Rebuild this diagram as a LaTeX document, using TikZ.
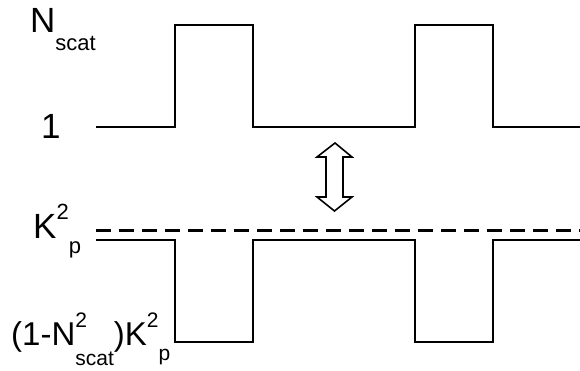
\documentclass[tikz,border=0pt]{standalone}
\usepackage{fontspec}
\setmainfont{Liberation Sans}
\newcommand{\hi}[2][19pt]{\raisebox{#1}{\fontsize{22}{26}\selectfont #2}}
\newcommand{\lo}[2][18pt]{\raisebox{-#1}{\fontsize{22}{26}\selectfont #2}}
\newcommand{\hs}[2][18pt]{\raisebox{#1}{\fontsize{21}{25}\selectfont #2}}
\newcommand{\ls}[2][18pt]{\raisebox{-#1}{\fontsize{21}{25}\selectfont #2}}

\begin{document}
\begin{tikzpicture}[
		x=1pt, y=-1pt,
		trace/.style={line width=2pt},
		ref/.style={line width=3pt, dash pattern=on 15pt off 8pt},
		swap/.style={line width=1.6pt, line join=miter},
		lbl/.style={anchor=base west, inner sep=0pt, font=\fontsize{35}{41}\selectfont},
		lbls/.style={lbl, font=\fontsize{33}{39}\selectfont}]
		\useasboundingbox (0,0) rectangle (580,370);
		\node[lbl] (nscat) at (30,32) {N\lo[18pt]{scat}};
		\node[lbl] (one) at (41,138) {1};
		\node[lbl] (kp) at (33,238) {K\hi{2}\lo[15pt]{p}};
		\node[lbls] (kplow) at (11,345) {(1-N\rlap{\hs{2}}\ls[20pt]{scat})K\hs{2}\ls[15pt]{p}};
		
		% upper trace
		\draw[trace] (96,127) -| (175,25) -| (253,127) -| (415,25) -| (493,127) -- (580,127);
		
		% lower trace and K_p^2 level
		\draw[ref] (96,230) -- (580,230);
		\draw[trace] (96,240) -| (175,342) -| (253,240) -| (415,342) -| (493,240) -- (580,240);
		
		\draw[swap] (335,143) -- (352,157) -- (343,157) -- (343,197) -- (352,197) -- (334.5,211)
			-- (317,197) -- (326,197) -- (326,157) -- (317,157) -- cycle;
	\end{tikzpicture}
\end{document}
